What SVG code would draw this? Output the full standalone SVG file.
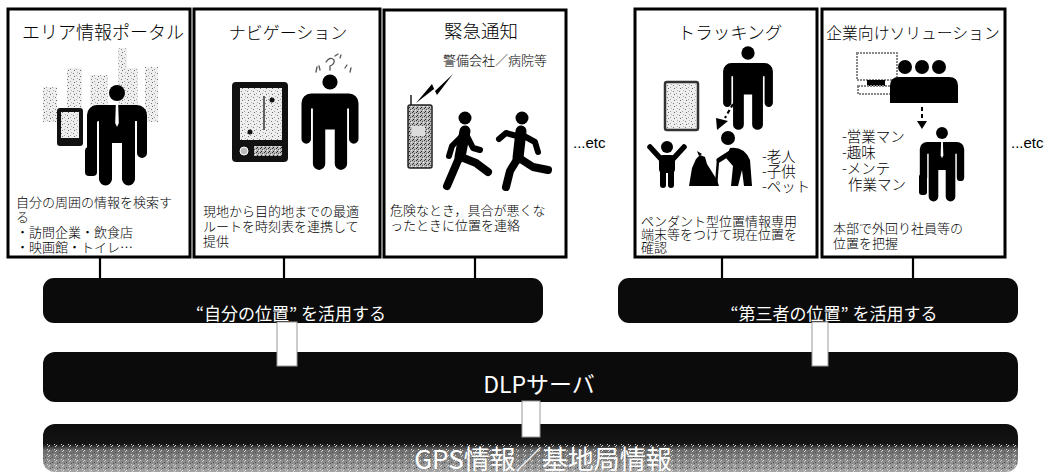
<svg xmlns="http://www.w3.org/2000/svg" width="1050" height="474" viewBox="0 0 1050 474">
  <defs>
    <style>
      .box { fill: #ffffff; stroke: #000000; stroke-width: 3; }
      .title { font-family: "Noto Sans CJK JP", "DejaVu Sans", sans-serif; font-weight: 300; fill: #000; }
      .desc { font-family: "Noto Sans CJK JP", "DejaVu Sans", sans-serif; font-weight: 300; font-size: 13px; fill: #000; }
      .list { font-family: "Noto Sans CJK JP", "DejaVu Sans", sans-serif; font-weight: 300; font-size: 14.5px; fill: #000; }
      .etc { font-family: "Liberation Sans", Arial, sans-serif; font-size: 15px; fill: #000; }
      .band { fill: #0b0b0b; }
      .bandtext { font-family: "Noto Sans CJK JP", "Liberation Sans", sans-serif; fill: #ffffff; }
      .wire { stroke: #000; stroke-width: 2.2; fill: none; }
      .stub { fill: #ffffff; stroke: #9a9a9a; stroke-width: 1; }
      .ink { fill: #000; }
      .limb { stroke: #000; stroke-linecap: round; stroke-linejoin: round; fill: none; }
    </style>
    <!-- light stipple used for buildings and screens -->
    <pattern id="stip" width="6" height="6" patternUnits="userSpaceOnUse">
      <rect width="6" height="6" fill="#eeeeee"/>
      <rect x="1" y="1" width="1" height="1" fill="#7a7a7a"/>
      <rect x="4" y="3" width="1" height="1" fill="#a0a0a0"/>
      <rect x="2" y="4" width="1" height="1" fill="#6a6a6a"/>
      <rect x="5" y="0" width="1" height="1" fill="#b0b0b0"/>
    </pattern>
    <!-- denser stipple for devices -->
    <pattern id="stipDark" width="4" height="4" patternUnits="userSpaceOnUse">
      <rect width="4" height="4" fill="#b8b8b8"/>
      <rect x="0" y="0" width="1" height="1" fill="#333"/>
      <rect x="2" y="1" width="1" height="1" fill="#555"/>
      <rect x="1" y="3" width="1" height="1" fill="#222"/>
      <rect x="3" y="2" width="1" height="1" fill="#eee"/>
    </pattern>
    <!-- coarse grain for the lower half of the base band -->
    <pattern id="grain" width="7" height="5" patternUnits="userSpaceOnUse">
      <rect x="0" y="0" width="1" height="1" fill="#e0e0e0"/>
      <rect x="3" y="2" width="1" height="1" fill="#4a4a4a"/>
      <rect x="5" y="4" width="1" height="1" fill="#d0d0d0"/>
      <rect x="1" y="3" width="1" height="1" fill="#5a5a5a"/>
      <rect x="6" y="1" width="1" height="1" fill="#cfcfcf"/>
    </pattern>
    <linearGradient id="gpsFill" x1="0" y1="0" x2="0" y2="1">
      <stop offset="0" stop-color="#0d0d0d"/>
      <stop offset="0.42" stop-color="#141414"/>
      <stop offset="0.55" stop-color="#6e6e6e"/>
      <stop offset="1" stop-color="#a4a4a4"/>
    </linearGradient>
    <clipPath id="gpsClip">
      <rect x="43" y="424" width="975" height="48" rx="12"/>
    </clipPath>
    <!-- standing figure, origin at head centre -->
    <g id="man">
      <circle cx="0" cy="0" r="8"/>
      <path d="M-20,12 h40 a10,10 0 0 1 10,10 v38 a5,5 0 0 1 -10,0 v-32 h-2 v58 a6.5,6.5 0 0 1 -13,0 v-36 h-10 v36 a6.5,6.5 0 0 1 -13,0 v-58 h-2 v32 a5,5 0 0 1 -10,0 v-38 a10,10 0 0 1 10,-10 z"/>
    </g>
    <!-- figure in a suit: adds a tie -->
    <g id="suit">
      <use href="#man"/>
      <path d="M-1.2,12 L1.2,12 L1.8,30 L0,34 L-1.8,30 z" fill="#ffffff"/>
    </g>
  </defs>

  <rect width="1050" height="474" fill="#ffffff"/>

  <!-- connectors between the service boxes and the bands -->
  <g id="connectors">
    <line class="wire" x1="100" y1="257" x2="100" y2="280"/>
    <line class="wire" x1="284" y1="257" x2="284" y2="280"/>
    <line class="wire" x1="475" y1="257" x2="475" y2="280"/>
    <line class="wire" x1="722" y1="257" x2="722" y2="280"/>
    <line class="wire" x1="913" y1="257" x2="913" y2="280"/>
  </g>

  <!-- ===== Box 1: area portal ===== -->
  <g id="area-portal">
    <rect class="box" x="8" y="9" width="182" height="248"/>
    <text class="title" x="103" y="39" font-size="18" text-anchor="middle">エリア情報ポータル</text>
    <g fill="url(#stip)">
      <rect x="43" y="87" width="14" height="35"/>
      <rect x="67" y="68" width="15" height="54"/>
      <rect x="90" y="75" width="18" height="47"/>
      <rect x="118" y="48" width="9" height="74"/>
      <rect x="127" y="68" width="11" height="54"/>
      <rect x="145" y="67" width="13" height="55"/>
    </g>
    <rect x="57" y="108" width="26" height="38" rx="3" fill="#111"/>
    <rect x="61" y="112" width="18" height="26" fill="url(#stip)"/>
    <use href="#suit" transform="translate(117,93)"/>
    <rect x="85" y="147" width="12" height="29" rx="4" class="ink"/>
    <text class="desc">
      <tspan x="16" y="207">自分の周囲の情報を検索す</tspan>
      <tspan x="16" y="222">る</tspan>
      <tspan x="16" y="237">・訪問企業・飲食店</tspan>
      <tspan x="16" y="252">・映画館・トイレ…</tspan>
    </text>
  </g>

  <!-- ===== Box 2: navigation ===== -->
  <g id="navigation">
    <rect class="box" x="194" y="9" width="186" height="248"/>
    <text class="title" x="288" y="39" font-size="17" text-anchor="middle">ナビゲーション</text>
    <rect x="232" y="82" width="56" height="80" rx="4" fill="#111"/>
    <rect x="240" y="88" width="42" height="52" fill="url(#stip)"/>
    <line x1="264" y1="96" x2="264" y2="130" stroke="#333" stroke-width="1.5"/>
    <circle cx="272" cy="100" r="2.5" fill="#111"/>
    <circle cx="250" cy="132" r="2.5" fill="#111"/>
    <rect x="254" y="146" width="28" height="10" fill="url(#stipDark)"/>
    <circle cx="244" cy="151" r="4" fill="#bbb" stroke="#fff" stroke-width="1"/>
    <use href="#man" transform="translate(330,82) scale(0.95)"/>
    <g stroke="#555" stroke-width="1.3" fill="none" stroke-linecap="round">
      <path d="M316,72 l1,-5 M320,70 l-1,-4"/>
      <path d="M326,62 q4,-6 8,-2 q1,4 -4,6 l0,4"/>
      <path d="M335,56 l3,-2 M340,58 l1,-3"/>
      <path d="M345,68 l2,-3 M350,72 l1,-4"/>
    </g>
    <text class="desc">
      <tspan x="203" y="216">現地から目的地までの最適</tspan>
      <tspan x="203" y="231">ルートを時刻表を連携して</tspan>
      <tspan x="203" y="246">提供</tspan>
    </text>
  </g>

  <!-- ===== Box 3: emergency notice ===== -->
  <g id="emergency">
    <rect class="box" x="384" y="10" width="182" height="247"/>
    <text class="title" x="481" y="38" font-size="18.5" text-anchor="middle">緊急通知</text>
    <text class="title" x="495" y="65" font-size="13" text-anchor="middle" fill="#444">警備会社／病院等</text>
    <polygon points="416,103 432,84 435,91 453,74 437,95 434,89" fill="#000"/>
    <line x1="411" y1="95" x2="411" y2="106" stroke="#555" stroke-width="2"/>
    <rect x="408" y="105" width="24" height="63" rx="2" fill="url(#stipDark)" stroke="#222" stroke-width="1.5"/>
    <rect x="412" y="126" width="13" height="10" fill="#ddd"/>
    <!-- runner 1 -->
    <circle cx="465" cy="118" r="6.5" class="ink"/>
    <path class="limb" stroke-width="11" d="M465,131 L460,157"/>
    <path class="limb" stroke-width="6" d="M462,136 L452,146 L449,156"/>
    <path class="limb" stroke-width="6" d="M467,136 L473,148 L480,150"/>
    <path class="limb" stroke-width="8" d="M461,157 L476,163 L488,172"/>
    <path class="limb" stroke-width="8" d="M459,158 L453,172 L447,186"/>
    <!-- runner 2 -->
    <circle cx="522" cy="118" r="6.5" class="ink"/>
    <path class="limb" stroke-width="11" d="M521,131 L518,158"/>
    <path class="limb" stroke-width="6" d="M517,136 L506,133 L499,139"/>
    <path class="limb" stroke-width="6" d="M524,136 L535,142 L538,152"/>
    <path class="limb" stroke-width="8" d="M518,158 L510,171 L506,187"/>
    <path class="limb" stroke-width="8" d="M519,158 L533,167 L548,170"/>
    <text class="desc">
      <tspan x="390" y="215">危険なとき，具合が悪くな</tspan>
      <tspan x="390" y="230">ったときに位置を連絡</tspan>
    </text>
  </g>

  <text class="etc" x="573" y="148">...etc</text>

  <!-- ===== Box 4: tracking ===== -->
  <g id="tracking">
    <rect class="box" x="635" y="9" width="182" height="248"/>
    <text class="title" x="730" y="39" font-size="17.5" text-anchor="middle">トラッキング</text>
    <rect x="665" y="82" width="33" height="48" rx="2" fill="url(#stip)" stroke="#333" stroke-width="2.5"/>
    <use href="#man" transform="translate(748,53) scale(0.83)"/>
    <line x1="733" y1="104" x2="725" y2="118" stroke="#000" stroke-width="2.2" stroke-dasharray="4,3"/>
    <polygon points="716,118 728,121 717,130" class="ink"/>
    <!-- child -->
    <circle cx="667" cy="147" r="6" class="ink"/>
    <rect x="659" y="155" width="16" height="18" rx="4" class="ink"/>
    <path class="limb" stroke-width="5.5" d="M661,159 L650,147"/>
    <path class="limb" stroke-width="5.5" d="M673,159 L684,147"/>
    <path class="limb" stroke-width="6" d="M663,172 L663,185"/>
    <path class="limb" stroke-width="6" d="M671,172 L671,185"/>
    <!-- dog -->
    <path d="M689,186 L692,168 L696,159 L700,155 L705,157 L707,164 L712,172 L717,180 L719,186 z" class="ink"/>
    <path d="M699,156 L697,151 L702,154 z" class="ink"/>
    <!-- elder with cane -->
    <circle cx="728" cy="138" r="7" class="ink"/>
    <path d="M730,148 Q744,146 750,160 L752,186 L744,186 L742,170 L738,186 L731,186 L733,166 L726,158 z" class="ink"/>
    <path class="limb" stroke-width="5" d="M730,153 L719,160"/>
    <line x1="718" y1="160" x2="716" y2="186" stroke="#000" stroke-width="2.5"/>
    <text class="list">
      <tspan x="762" y="162">-老人</tspan>
      <tspan x="762" y="177">-子供</tspan>
      <tspan x="762" y="192">-ペット</tspan>
    </text>
    <text class="desc" font-size="12.5">
      <tspan x="641" y="226">ペンダント型位置情報専用</tspan>
      <tspan x="641" y="239">端末等をつけて現在位置を</tspan>
      <tspan x="641" y="252">確認</tspan>
    </text>
  </g>

  <!-- ===== Box 5: enterprise solution ===== -->
  <g id="enterprise">
    <rect class="box" x="822" y="9" width="183" height="248"/>
    <text class="title" x="913" y="39" font-size="15.8" text-anchor="middle">企業向けソリューション</text>
    <rect x="857" y="53" width="40" height="27" fill="none" stroke="#888" stroke-width="2" stroke-dasharray="2,1"/>
    <rect x="867" y="80" width="18" height="6" class="ink"/>
    <rect x="858" y="86" width="35" height="8" fill="none" stroke="#888" stroke-width="2" stroke-dasharray="2,1"/>
    <circle cx="905" cy="67" r="7" class="ink"/>
    <circle cx="922" cy="67" r="7" class="ink"/>
    <circle cx="939" cy="67" r="7" class="ink"/>
    <path d="M890,103 V86 Q890,77 899,77 H949 Q958,77 958,86 V103 z" class="ink"/>
    <line x1="922" y1="107" x2="922" y2="121" stroke="#000" stroke-width="2" stroke-dasharray="4,3"/>
    <polygon points="917,121 927,121 922,129" class="ink"/>
    <use href="#suit" transform="translate(942,133) scale(0.74)"/>
    <rect x="919" y="174" width="8" height="21" rx="3" class="ink"/>
    <text class="list">
      <tspan x="842" y="142">-営業マン</tspan>
      <tspan x="842" y="158">-趣味</tspan>
      <tspan x="842" y="174">-メンテ</tspan>
      <tspan x="848" y="190">作業マン</tspan>
    </text>
    <text class="desc" font-size="15.5">
      <tspan x="833" y="233">本部で外回り社員等の</tspan>
      <tspan x="833" y="248">位置を把握</tspan>
    </text>
  </g>

  <text class="etc" x="1011" y="148">...etc</text>

  <!-- ===== Bands ===== -->
  <g id="own-position">
    <rect class="band" x="43" y="278" width="500" height="45" rx="11"/>
    <text class="bandtext" x="291" y="320" font-size="17" text-anchor="middle">“自分の位置” を活用する</text>
  </g>
  <g id="third-party-position">
    <rect class="band" x="618" y="278" width="400" height="45" rx="11"/>
    <text class="bandtext" x="834" y="320" font-size="17" text-anchor="middle">“第三者の位置” を活用する</text>
  </g>

  <g id="dlp-server">
    <rect class="band" x="43" y="352" width="975" height="50" rx="12"/>
    <text class="bandtext" x="539" y="393" font-size="23" text-anchor="middle">DLPサーバ</text>
  </g>

  <g id="gps-info">
    <rect x="43" y="424" width="975" height="48" rx="12" fill="url(#gpsFill)"/>
    <rect x="43" y="444" width="975" height="28" fill="url(#grain)" clip-path="url(#gpsClip)"/>
    <text class="bandtext" x="543" y="469" font-size="26" text-anchor="middle" fill="#dadada">GPS情報／基地局情報</text>
  </g>

  <!-- links between bands -->
  <g id="band-links">
    <rect class="stub" x="277" y="322" width="20" height="44"/>
    <rect class="stub" x="812" y="322" width="16" height="44"/>
    <rect class="stub" x="522" y="401" width="18" height="36"/>
  </g>
</svg>
